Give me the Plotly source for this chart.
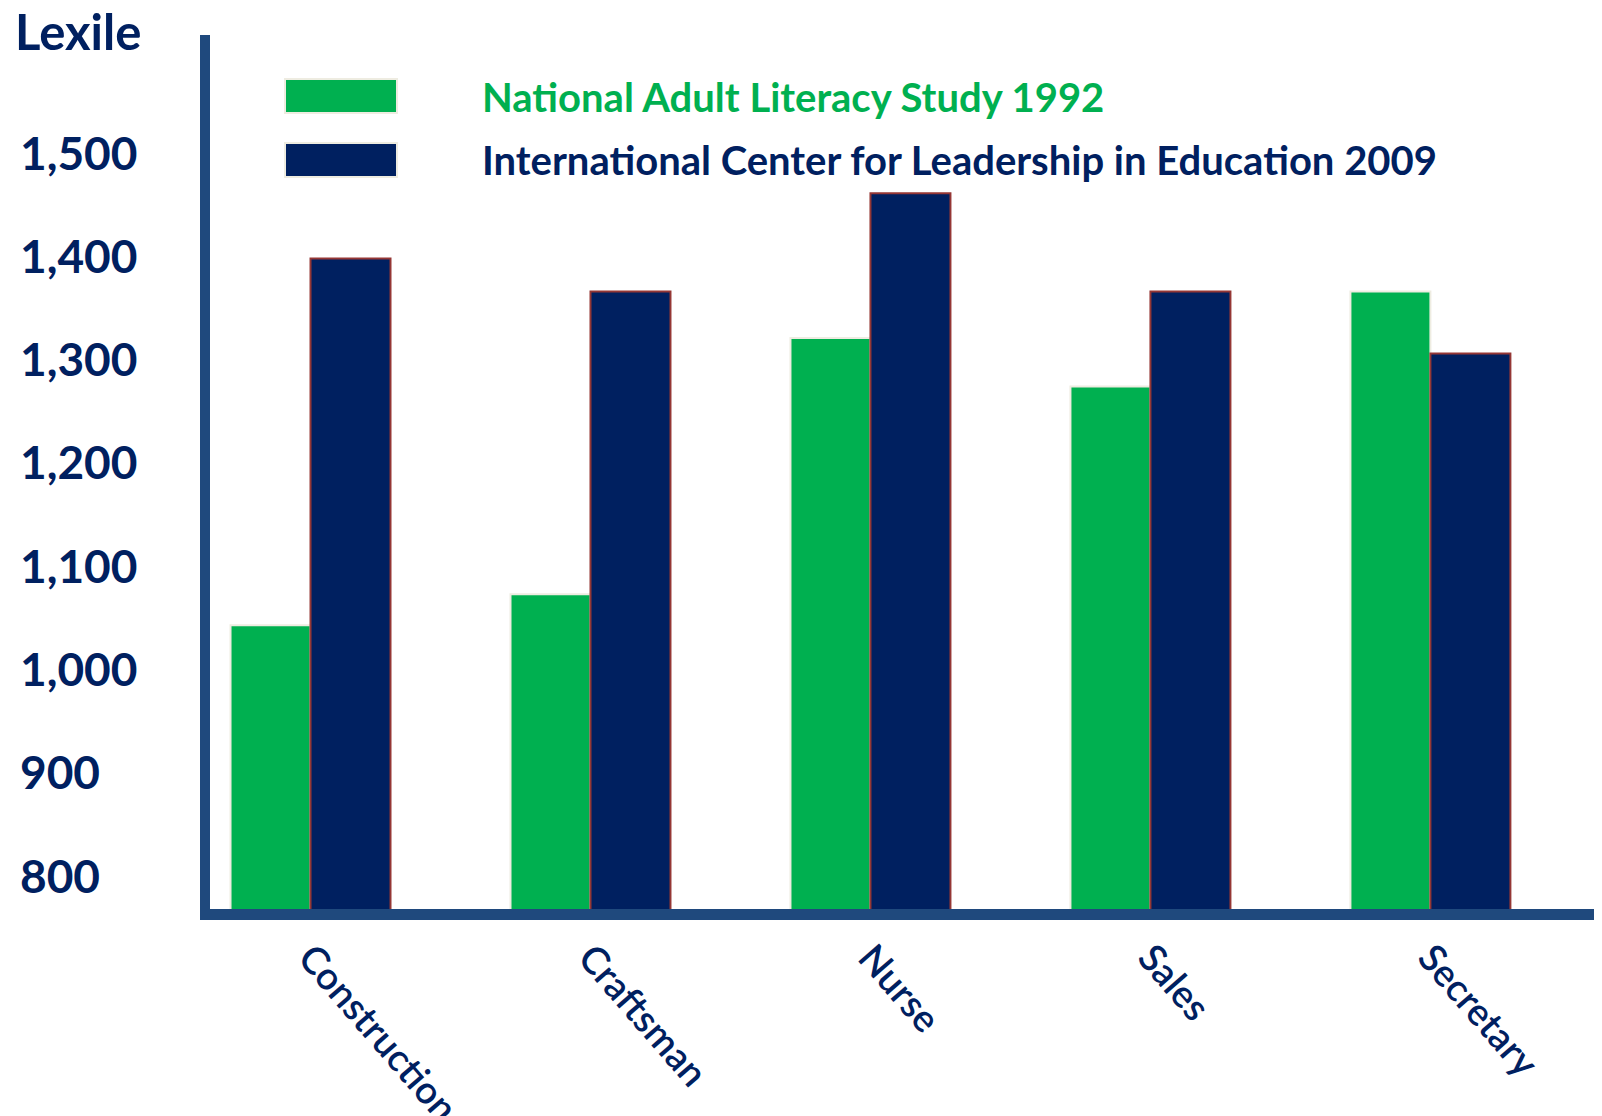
import plotly.graph_objects as go

categories = ["Construction", "Craftsman", "Nurse", "Sales", "Secretary"]
nals_1992 = [1042, 1072, 1320, 1273, 1365]
icle_2009 = [1397, 1365, 1460, 1365, 1305]
series_names = ["National Adult Literacy Study 1992",
                "International Center for Leadership in Education 2009"]
y_tick_values = [1500, 1400, 1300, 1200, 1100, 1000, 900, 800]
y_tick_labels = ["1,500", "1,400", "1,300", "1,200", "1,100", "1,000", "900", "800"]
y_title = "Lexile"

GREEN = "#00B050"
NAVY = "#002060"
AXIS = "#1F497D"
FONT = "Lato"

# page has an 8px body margin
OFF = 8
W, H = 1594, 1108
ML, MR, MT, MB = 202, 5, 27, 207
PW = W - ML - MR
PH = H - MT - MB


def px_x(px):
    return (px - OFF - ML) / PW


def px_y(py):
    return (H - MB - (py - OFF)) / PH


fig = go.Figure()
fig.add_trace(go.Bar(
    x=categories, y=nals_1992, name=series_names[0],
    marker=dict(color=GREEN, line=dict(color="#EEECE1", width=2)),
))
fig.add_trace(go.Bar(
    x=categories, y=icle_2009, name=series_names[1],
    marker=dict(color=NAVY, line=dict(color="#953735", width=2)),
))

annotations = []
for v, t in zip(y_tick_values, y_tick_labels):
    annotations.append(dict(
        x=px_x(18), xref="paper", y=v, yref="y", text=t, showarrow=False,
        xanchor="left", yanchor="middle",
        font=dict(family=FONT, size=46, color=NAVY, weight="bold"),
    ))
annotations.append(dict(
    x=px_x(13), xref="paper", y=px_y(31), yref="paper", text=y_title,
    showarrow=False, xanchor="left", yanchor="middle",
    font=dict(family=FONT, size=49, color=NAVY, weight="bold"),
))
legend_rows = [(series_names[0], GREEN, "#EEECE1", 79, 113, 97),
               (series_names[1], NAVY, "#EEECE1", 143, 177, 160)]
shapes = []
for name, col, edge, y0, y1, yc in legend_rows:
    shapes.append(dict(type="rect", xref="paper", yref="paper",
                       x0=px_x(285), x1=px_x(397), y0=px_y(y1), y1=px_y(y0),
                       fillcolor=col, line=dict(color=edge, width=2)))
    annotations.append(dict(
        x=px_x(480), xref="paper", y=px_y(yc), yref="paper", text=name,
        showarrow=False, xanchor="left", yanchor="middle",
        font=dict(family=FONT, size=40, color=col, weight="bold"),
    ))

fig.update_layout(
    width=W, height=H,
    margin=dict(l=ML, r=MR, t=MT, b=MB, pad=0, autoexpand=False),
    paper_bgcolor="white", plot_bgcolor="white",
    barmode="group", bargap=0.4286, bargroupgap=0,
    showlegend=False,
    annotations=annotations, shapes=shapes,
    xaxis=dict(
        range=[-0.359, 4.595], showgrid=False, zeroline=False,
        showline=True, linecolor=AXIS, linewidth=11,
        ticks="", tickangle=49, automargin=False,
        tickfont=dict(family=FONT, size=38, color=NAVY, weight=600),
    ),
    yaxis=dict(
        range=[767.2, 1613.3], showgrid=False, zeroline=False,
        showline=True, linecolor=AXIS, linewidth=10,
        showticklabels=False, ticks="", automargin=False,
    ),
)

fig.write_html("out.html")
